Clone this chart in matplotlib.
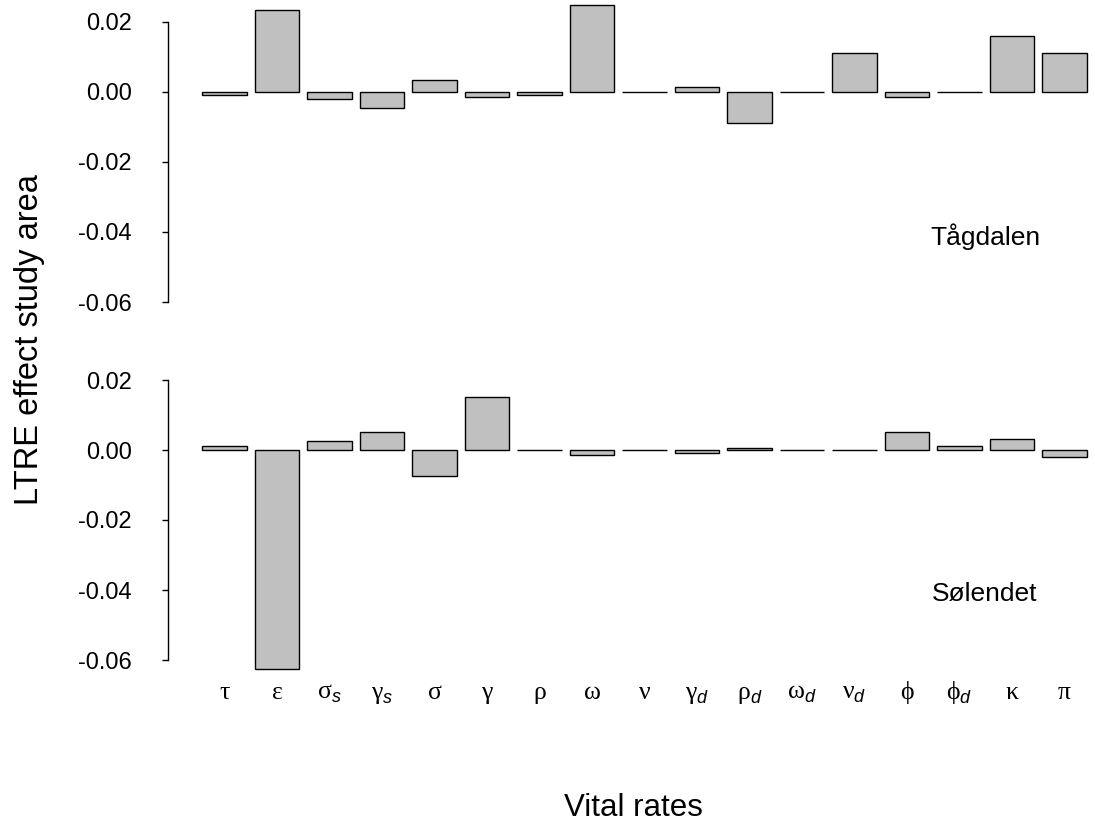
import matplotlib
matplotlib.use("Agg")
import matplotlib.pyplot as plt
import numpy as np

plt.rcParams['font.family'] = ['Liberation Sans', 'DejaVu Sans']
plt.rcParams['mathtext.fontset'] = 'custom'
plt.rcParams['mathtext.rm'] = 'Liberation Serif'
plt.rcParams['mathtext.it'] = 'Liberation Sans:italic'

# vital rates (x categories)
rates = [r'$\mathrm{\tau}$', r'$\mathrm{\epsilon}$', r'$\mathrm{\sigma}_{\mathit{s}}$',
         r'$\mathrm{\gamma}_{\mathit{s}}$', r'$\mathrm{\sigma}$', r'$\mathrm{\gamma}$',
         r'$\mathrm{\rho}$', r'$\mathrm{\omega}$', r'$\mathrm{\nu}$',
         r'$\mathrm{\gamma}_{\mathit{d}}$', r'$\mathrm{\rho}_{\mathit{d}}$',
         r'$\mathrm{\omega}_{\mathit{d}}$', r'$\mathrm{\nu}_{\mathit{d}}$',
         r'$\mathrm{\phi}$', r'$\mathrm{\phi}_{\mathit{d}}$', r'$\mathrm{\kappa}$',
         r'$\mathrm{\pi}$']

# LTRE contributions
tagdalen = [-0.001, 0.0233, -0.0021, -0.0045, 0.0034, -0.0015, -0.001, 0.0248, 0.0,
            0.0015, -0.0088, 0.0, 0.0112, -0.0015, 0.0, 0.0161, 0.0112]
solendet = [0.001, -0.0625, 0.0026, 0.005, -0.0074, 0.0152, 0.0, -0.0015, 0.0,
            -0.001, 0.0005, 0.0, 0.0, 0.005, 0.001, 0.003, -0.002]
panels = ['Tågdalen', 'Sølendet']
yticks = [-0.06, -0.04, -0.02, 0.00, 0.02]

W, H = 1095, 830
fig = plt.figure(figsize=(W / 100, H / 100), dpi=100)

x = np.arange(len(rates))
x0 = 224.5   # pixel of first bar centre
dx = 52.5    # pixel spacing
left_px = 168
xlim = (-(x0 - left_px) / dx, (W - x0) / dx)

# (pixel top, pixel bottom) of each axes
boxes = [(1, 323), (359, 681)]
axes = []
for (top, bot), vals, name in zip(boxes, [tagdalen, solendet], panels):
    ax = fig.add_axes([left_px / W, 1 - bot / H, 1 - left_px / W, (bot - top) / H])
    ax.bar(x, vals, width=0.84, color='#c0c0c0', edgecolor='black', linewidth=1.0)
    ax.set_xlim(*xlim)
    ax.set_ylim(-0.066, 0.026)
    for s in ['top', 'right', 'bottom']:
        ax.spines[s].set_visible(False)
    ax.spines['left'].set_bounds(-0.06, 0.02)
    ax.spines['left'].set_linewidth(1.0)
    ax.set_yticks(yticks)
    ax.set_yticklabels(['%.2f' % v for v in yticks])
    ax.tick_params(axis='y', direction='out', length=4, width=1.0, labelsize=17, pad=22)
    ax.text((985 - x0) / dx, -0.0412, name, fontsize=19, ha='center', va='center')
    axes.append(ax)

axes[0].set_xticks([])
ax = axes[1]
ax.set_xticks(x)
ax.set_xticklabels(rates, fontsize=18.5)
ax.tick_params(axis='x', length=0, pad=13)
for lab in ax.get_xticklabels():
    lab.set_verticalalignment('baseline')

fig.text(633 / W, 1 - 808 / H, 'Vital rates', fontsize=22.5, ha='center', va='center')
fig.text(30 / W, 1 - 340 / H, 'LTRE effect study area', fontsize=23.5, rotation=90,
         ha='center', va='center')

fig.savefig('out.png', dpi=100)
